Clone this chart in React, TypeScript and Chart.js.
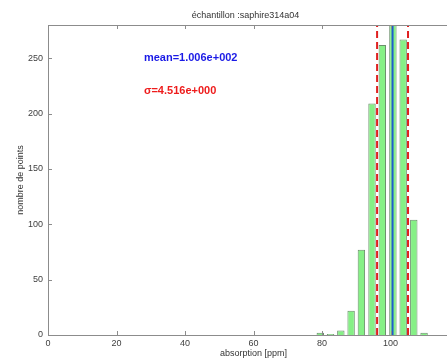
import React, { useEffect, useRef } from "react";
import { Chart, registerables } from "chart.js";

Chart.register(...registerables);

const chartTitle = "échantillon :saphire314a04";
const xAxisLabel = "absorption [ppm]";
const yAxisLabel = "nombre de points";

const binCenters = [79.5, 82.5, 85.5, 88.5, 91.5, 94.6, 97.6, 100.7, 103.7, 106.8, 109.8];
const counts = [2, 1, 4, 22, 77, 209, 262, 300, 267, 104, 2];

const meanValue = 100.6;
const sigmaValue = 4.516;
const meanText = "mean=1.006e+002";
const sigmaText = "σ=4.516e+000";
const labelX = 28;
const meanLabelY = 250;
const sigmaLabelY = 220;

const xTicks = [0, 20, 40, 60, 80, 100, 120];
const yTicks = [0, 50, 100, 150, 200, 250];
const xMin = 0;
const xMax = 120;
const yMin = 0;
const yMax = 280;

const FONT = "'Liberation Sans', Arial, Helvetica, sans-serif";

const boxPlugin = {
  id: "matlabBox",
  afterDatasetsDraw(chart: any) {
    const { ctx, chartArea, scales } = chart;
    const { left, right, top, bottom } = chartArea;
    ctx.save();
    ctx.strokeStyle = "#8c8c8c";
    ctx.lineWidth = 1;
    ctx.beginPath();
    ctx.rect(left + 0.5, top + 0.5, right - left, bottom - top);
    ctx.stroke();
    const tl = 4;
    ctx.beginPath();
    xTicks.forEach((v) => {
      const px = Math.round(scales.x.getPixelForValue(v)) + 0.5;
      ctx.moveTo(px, bottom);
      ctx.lineTo(px, bottom - tl);
      ctx.moveTo(px, top);
      ctx.lineTo(px, top + tl);
    });
    yTicks.forEach((v) => {
      const py = Math.round(scales.y.getPixelForValue(v)) + 0.5;
      ctx.moveTo(left, py);
      ctx.lineTo(left + tl, py);
      ctx.moveTo(right, py);
      ctx.lineTo(right - tl, py);
    });
    ctx.stroke();

    // annotations
    ctx.textAlign = "left";
    ctx.textBaseline = "middle";
    ctx.font = `bold 11px ${FONT}`;
    ctx.fillStyle = "#1a1ae6";
    ctx.fillText(meanText, scales.x.getPixelForValue(labelX), scales.y.getPixelForValue(meanLabelY));
    ctx.fillStyle = "#ee1c1c";
    ctx.fillText(sigmaText, scales.x.getPixelForValue(labelX), scales.y.getPixelForValue(sigmaLabelY));

    // title
    ctx.font = `9px ${FONT}`;
    ctx.fillStyle = "#333333";
    ctx.textAlign = "center";
    ctx.fillText(chartTitle, (left + right) / 2 - 8, top - 9);
    ctx.restore();
  },
};

export default function App() {
  const canvasRef = useRef<HTMLCanvasElement | null>(null);

  useEffect(() => {
    if (!canvasRef.current) return;
    const barData = binCenters.map((x, i) => ({ x, y: counts[i] }));
    const vline = (x: number) => [
      { x, y: yMin },
      { x, y: yMax },
    ];
    const chart = new Chart(canvasRef.current, {
      type: "bar",
      data: {
        datasets: [
          {
            type: "line",
            data: vline(meanValue),
            borderColor: "#1f5ccc",
            borderWidth: 2,
            pointRadius: 0,
            order: 1,
          } as any,
          {
            type: "line",
            data: vline(meanValue - sigmaValue),
            borderColor: "#e02020",
            borderWidth: 2,
            borderDash: [7, 4],
            pointRadius: 0,
            order: 2,
          } as any,
          {
            type: "line",
            data: vline(meanValue + sigmaValue),
            borderColor: "#e02020",
            borderWidth: 2,
            borderDash: [7, 4],
            pointRadius: 0,
            order: 2,
          } as any,
          {
            type: "line",
            data: vline(meanValue - sigmaValue),
            borderColor: "#ffffff",
            borderWidth: 2,
            pointRadius: 0,
            order: 3,
          } as any,
          {
            type: "line",
            data: vline(meanValue + sigmaValue),
            borderColor: "#ffffff",
            borderWidth: 2,
            pointRadius: 0,
            order: 3,
          } as any,
          {
            type: "bar",
            data: barData,
            backgroundColor: "#86f086",
            borderColor: "#6a8f6a",
            borderWidth: 1,
            barPercentage: 0.72,
            categoryPercentage: 1,
            order: 10,
          } as any,
        ],
      },
      options: {
        responsive: false,
        animation: false,
        devicePixelRatio: 1,
        layout: { padding: { left: 0, top: 25, right: 21, bottom: 0 } },
        plugins: { legend: { display: false }, tooltip: { enabled: false }, title: { display: false } },
        scales: {
          x: {
            type: "linear",
            min: xMin,
            max: xMax,
            offset: false,
            afterBuildTicks: (s: any) => {
              s.ticks = xTicks.map((v) => ({ value: v }));
            },
            afterFit: (s: any) => {
              s.height = 26;
            },
            grid: { display: false, drawTicks: false, offset: false },
            border: { display: false },
            ticks: {
              padding: 3,
              color: "#404040",
              font: { family: FONT, size: 9 },
              maxRotation: 0,
            },
            title: {
              display: true,
              text: xAxisLabel,
              color: "#333333",
              font: { family: FONT, size: 9 },
              padding: { top: 0, bottom: 2 },
            },
          },
          y: {
            type: "linear",
            min: yMin,
            max: yMax,
            afterBuildTicks: (s: any) => {
              s.ticks = yTicks.map((v) => ({ value: v }));
            },
            afterFit: (s: any) => {
              s.width = 48;
            },
            grid: { display: false, drawTicks: false },
            border: { display: false },
            ticks: {
              padding: 5,
              color: "#404040",
              font: { family: FONT, size: 9 },
            },
            title: {
              display: true,
              text: yAxisLabel,
              color: "#333333",
              font: { family: FONT, size: 9 },
              padding: { top: 15, bottom: 0 },
            },
          },
        },
      },
      plugins: [boxPlugin],
    } as any);
    return () => chart.destroy();
  }, []);

  return (
    <div
      style={{
        position: "fixed",
        left: 0,
        top: 0,
        width: 447,
        height: 361,
        overflow: "hidden",
        background: "#ffffff",
      }}
    >
      <canvas ref={canvasRef} width={480} height={361} style={{ width: 480, height: 361, display: "block" }} />
    </div>
  );
}
